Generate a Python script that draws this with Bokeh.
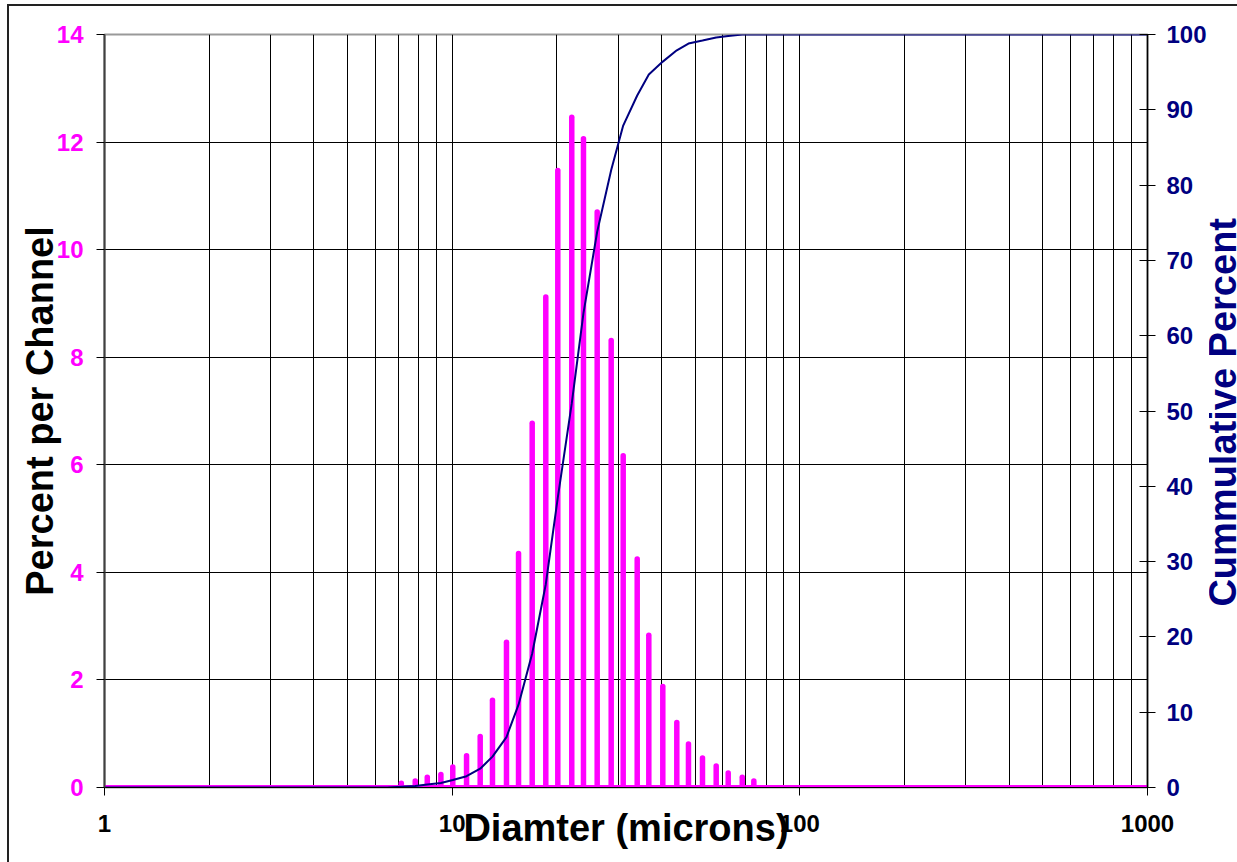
from bokeh.plotting import figure
from bokeh.models import Range1d, LinearAxis, FixedTicker, PrintfTickFormatter, Div
from bokeh.layouts import row
from bokeh.embed import file_html
from bokeh.resources import INLINE

# ---------------- data ----------------
diameter = [7.14, 7.83, 8.48, 9.28, 10.04, 11.0, 12.04, 13.06, 14.33, 15.52,
            16.99, 18.59, 20.13, 22.08, 23.86, 26.13, 28.67, 31.04, 34.06, 36.78,
            40.35, 44.27, 47.83, 52.48, 57.47, 62.23, 68.29, 73.74]
percent_per_channel = [0.08, 0.12, 0.19, 0.24, 0.38, 0.59, 0.95, 1.62, 2.70, 4.35,
                       6.77, 9.12, 11.47, 12.46, 12.06, 10.70, 8.31, 6.17, 4.25, 2.83,
                       1.88, 1.21, 0.81, 0.55, 0.40, 0.27, 0.19, 0.12]

cum_diameter = [1, 6.5, 7.14, 7.83, 8.48, 9.28, 10.04, 11.0, 12.04, 13.06, 14.33, 15.52,
                16.99, 18.59, 20.13, 22.08, 23.86, 26.13, 28.67, 31.04, 34.06, 36.78,
                40.35, 44.27, 47.83, 52.48, 57.47, 62.23, 68.29, 73.74, 1000]
cum_percent = [0, 0, 0.1, 0.2, 0.4, 0.6, 1.0, 1.5, 2.5, 4.1, 6.7, 11.0,
               17.8, 27.0, 38.5, 51.0, 63.0, 73.8, 82.0, 87.9, 91.9, 94.7,
               96.4, 97.9, 98.8, 99.2, 99.6, 99.8, 100, 100, 100]

baseline_x = [1, 1000]
baseline_y = [0, 0]

x_ticks = [1, 10, 100, 1000]
x_minor_ticks = [2, 3, 4, 5, 6, 7, 8, 9, 20, 30, 40, 50, 60, 70, 80, 90,
                 200, 300, 400, 500, 600, 700, 800, 900]
left_ticks = [0, 2, 4, 6, 8, 10, 12, 14]
right_ticks = [0, 10, 20, 30, 40, 50, 60, 70, 80, 90, 100]

x_title = "Diamter (microns)"
left_title = "Percent per Channel"
right_title = "Cummulative Percent"

MAGENTA = "#FF00FF"
NAVY = "#000080"
FONT = "Liberation Sans"
BORDER = "#222222"

p = figure(x_axis_type="log", x_range=Range1d(1, 1000), y_range=Range1d(0, 14),
           frame_width=1043, frame_height=753,
           min_border_left=104, min_border_right=59, min_border_top=34, min_border_bottom=75,
           output_backend="svg", toolbar_location=None)
# outer chart-area border (left and top edges only are visible in the reference)
p.styles = {
    "background-color": "white",
    "background-image": f"linear-gradient({BORDER}, {BORDER}), linear-gradient({BORDER}, {BORDER})",
    "background-size": "2px 100%, 100% 2px",
    "background-position": "7px 4px, 7px 4px",
    "background-repeat": "no-repeat",
}

p.extra_y_ranges = {"cum": Range1d(0, 100)}

p.outline_line_color = "#999999"
p.outline_line_width = 2
p.background_fill_color = "white"
p.border_fill_color = None

# grids
p.xgrid.ticker = FixedTicker(ticks=x_ticks, minor_ticks=x_minor_ticks)
p.xgrid.grid_line_color = "black"
p.xgrid.grid_line_width = 1
p.xgrid.minor_grid_line_color = "black"
p.xgrid.minor_grid_line_width = 1
p.ygrid.ticker = FixedTicker(ticks=left_ticks)
p.ygrid.grid_line_color = "black"
p.ygrid.grid_line_width = 1

# x axis
xa = p.xaxis[0]
xa.ticker = FixedTicker(ticks=x_ticks, minor_ticks=x_minor_ticks)
xa.formatter = PrintfTickFormatter(format="%d")
xa.major_label_text_font = FONT
xa.major_label_text_font_style = "bold"
xa.major_label_text_font_size = "24px"
xa.major_label_text_color = "black"
xa.major_label_standoff = 19
xa.major_tick_in = 0
xa.major_tick_out = 8
xa.minor_tick_in = 0
xa.minor_tick_out = 0
xa.axis_line_color = "black"
xa.axis_label = x_title
xa.axis_label_text_font = FONT
xa.axis_label_text_font_style = "bold"
xa.axis_label_text_font_size = "38px"
xa.axis_label_text_color = "black"
xa.axis_label_standoff = -28

# left axis
ya = p.yaxis[0]
ya.ticker = FixedTicker(ticks=left_ticks)
ya.major_label_text_font = FONT
ya.major_label_text_font_style = "bold"
ya.major_label_text_font_size = "24px"
ya.major_label_text_color = MAGENTA
ya.major_label_standoff = 13
ya.major_tick_in = 0
ya.major_tick_out = 8
ya.major_tick_line_color = "black"
ya.minor_tick_in = 0
ya.minor_tick_out = 0
ya.axis_line_color = "#404040"
ya.axis_line_width = 2
ya.axis_label = left_title
ya.axis_label_text_font = FONT
ya.axis_label_text_font_style = "bold"
ya.axis_label_text_font_size = "38px"
ya.axis_label_text_color = "black"
ya.axis_label_standoff = -7

# right axis (ticks and labels; its title is drawn just beside it)
ra = LinearAxis(y_range_name="cum", ticker=FixedTicker(ticks=right_ticks))
ra.major_label_text_font = FONT
ra.major_label_text_font_style = "bold"
ra.major_label_text_font_size = "24px"
ra.major_label_text_color = NAVY
ra.major_label_standoff = 11
ra.major_tick_in = 8
ra.major_tick_out = 8
ra.major_tick_line_color = "black"
ra.minor_tick_in = 0
ra.minor_tick_out = 0
ra.axis_line_color = "black"
ra.axis_line_width = 1.5
p.add_layout(ra, "right")

# bars
p.segment(x0=diameter, y0=[0] * len(diameter), x1=diameter, y1=percent_per_channel,
          line_color=MAGENTA, line_width=5.5, line_cap="round")
# zero baseline
p.line(baseline_x, baseline_y, line_color=MAGENTA, line_width=5)
# cumulative
p.line(cum_diameter, cum_percent, y_range_name="cum", line_color=NAVY, line_width=2)

# right-hand axis title, reading bottom-to-top
title_html = (
    '<div style="position:absolute; top:218px; left:-7px; '
    'writing-mode:vertical-rl; transform:rotate(180deg); white-space:nowrap; '
    "font-family:'Liberation Sans', Arial, sans-serif; font-weight:bold; font-size:38px; "
    'line-height:42px; color:#000080;">' + right_title + '</div>'
)
side = Div(text=title_html, width=28, height=862, margin=0,
           styles={"position": "relative", "overflow": "hidden",
                   "background-color": "white",
                   "background-image": f"linear-gradient({BORDER}, {BORDER})",
                   "background-size": "100% 2px",
                   "background-position": "0 4px",
                   "background-repeat": "no-repeat"})

layout = row(p, side, spacing=0)
open("out.html", "w").write(file_html(layout, INLINE))
